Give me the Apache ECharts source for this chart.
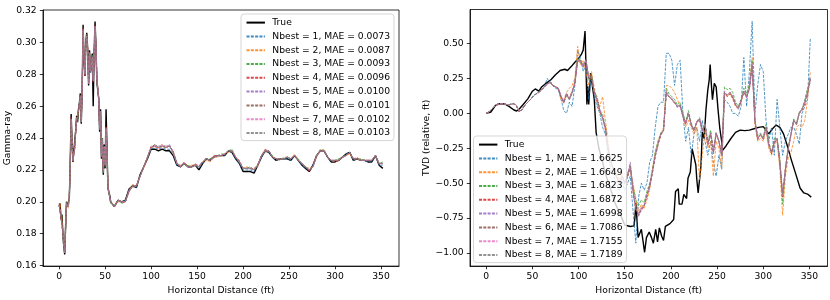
<!DOCTYPE html>
<html><head><meta charset="utf-8">
<script src="https://cdn.jsdelivr.net/npm/echarts@6/dist/echarts.min.js"></script>
<style>html,body{margin:0;padding:0;background:#fff}#c{width:830px;height:300px}</style>
</head><body><div id="c"></div>
<script>
// ---------- LEFT PANEL: Gamma-ray ----------
const xL = [0,1,2,3,4,5,6,7,8,9,10,11,12,13,14,15,16,17,18,19,20,21,22,23,24,25,26,27,28,29,30,31,32,33,34,35,36,37,38,39,40,41,42,43,44,45,46,47,48,49,50,51,52,53,54,55,56,60,64,68,72,76,80,84,88,92,96,100,104,108,112,116,120,124,128,132,136,140,144,148,152,156,160,164,168,172,176,180,184,188,192,196,200,204,208,212,216,220,224,228,232,236,240,244,248,252,256,260,264,268,272,276,280,284,288,292,296,300,304,308,312,316,320,324,328,332,336,340,344,348,352];
const grTrue = [0.197,0.199,0.189,0.192,0.180,0.172,0.167,0.185,0.200,0.197,
0.196,0.202,0.223,0.255,0.238,0.225,0.232,0.233,0.245,0.254,
0.250,0.258,0.262,0.268,0.249,0.269,0.311,0.289,0.279,0.300,
0.306,0.296,0.273,0.295,0.281,0.287,0.293,0.260,0.293,0.313,
0.298,0.275,0.270,0.265,0.244,0.258,0.227,0.240,0.217,0.236,
0.221,0.258,0.233,0.209,0.206,0.204,0.200,
0.197,0.201,0.200,0.201,0.208,0.210,0.209,0.217,0.222,0.227,
0.233,0.233,0.232,0.233,0.232,0.232,0.229,0.223,0.222,0.224,
0.222,0.222,0.223,0.220,0.224,0.227,0.226,0.228,0.229,0.229,
0.229,0.232,0.231,0.227,0.224,0.219,0.219,0.219,0.218,0.223,
0.228,0.232,0.231,0.228,0.226,0.227,0.227,0.227,0.226,0.229,
0.226,0.223,0.221,0.219,0.223,0.229,0.232,0.232,0.228,0.225,
0.225,0.226,0.228,0.230,0.231,0.226,0.227,0.226,0.226,0.225,
0.225,0.229,0.223,0.221];
const gr1 = [0.198,0.198,0.190,0.191,0.181,0.173,0.168,0.184,0.199,0.198,
0.197,0.203,0.222,0.252,0.237,0.226,0.231,0.234,0.244,0.252,
0.251,0.257,0.261,0.266,0.251,0.270,0.308,0.290,0.280,0.299,
0.304,0.295,0.275,0.293,0.282,0.286,0.291,0.276,0.291,0.310,
0.297,0.277,0.271,0.264,0.246,0.256,0.229,0.239,0.219,0.234,
0.223,0.246,0.231,0.210,0.206,0.203,0.200,
0.197,0.201,0.200,0.201,0.208,0.210,0.209,0.217,0.222,0.227,
0.233,0.234,0.233,0.234,0.233,0.233,0.230,0.223,0.222,0.224,
0.222,0.222,0.223,0.221,0.224,0.227,0.226,0.228,0.229,0.229,
0.229,0.232,0.231,0.227,0.224,0.220,0.220,0.220,0.219,0.223,
0.228,0.232,0.231,0.228,0.226,0.227,0.227,0.227,0.226,0.229,
0.226,0.223,0.221,0.220,0.223,0.229,0.232,0.232,0.228,0.225,
0.226,0.226,0.228,0.230,0.231,0.226,0.227,0.226,0.226,0.225,
0.225,0.229,0.223,0.223];
const gr2 = [0.197,0.199,0.191,0.190,0.182,0.172,0.169,0.185,0.198,0.199,
0.196,0.204,0.221,0.250,0.238,0.227,0.230,0.235,0.243,0.251,
0.252,0.256,0.262,0.265,0.252,0.271,0.306,0.291,0.281,0.298,
0.303,0.296,0.276,0.292,0.283,0.285,0.290,0.278,0.290,0.308,
0.298,0.278,0.272,0.263,0.247,0.255,0.230,0.238,0.220,0.233,
0.224,0.245,0.230,0.211,0.207,0.202,0.201,
0.197,0.200,0.200,0.200,0.207,0.211,0.210,0.216,0.221,0.228,
0.234,0.235,0.233,0.235,0.234,0.235,0.231,0.224,0.223,0.224,
0.222,0.223,0.223,0.222,0.225,0.226,0.225,0.228,0.228,0.229,
0.230,0.231,0.232,0.228,0.225,0.221,0.222,0.221,0.220,0.222,
0.229,0.231,0.232,0.228,0.227,0.226,0.228,0.228,0.227,0.230,
0.226,0.224,0.222,0.221,0.222,0.228,0.232,0.233,0.228,0.226,
0.225,0.226,0.228,0.229,0.230,0.227,0.228,0.226,0.226,0.226,
0.226,0.229,0.224,0.224];
const gr3 = [0.198,0.197,0.190,0.192,0.180,0.174,0.168,0.183,0.200,0.198,
0.197,0.202,0.223,0.251,0.236,0.226,0.232,0.233,0.245,0.253,
0.250,0.258,0.260,0.267,0.250,0.272,0.307,0.289,0.282,0.298,
0.305,0.294,0.277,0.292,0.281,0.287,0.292,0.277,0.292,0.309,
0.296,0.276,0.270,0.265,0.245,0.257,0.228,0.240,0.218,0.235,
0.222,0.247,0.232,0.209,0.205,0.204,0.199,
0.198,0.201,0.199,0.200,0.207,0.210,0.210,0.216,0.222,0.228,
0.234,0.236,0.234,0.235,0.235,0.235,0.231,0.225,0.222,0.224,
0.223,0.222,0.223,0.222,0.225,0.227,0.227,0.228,0.229,0.230,
0.230,0.232,0.233,0.228,0.225,0.221,0.221,0.222,0.220,0.223,
0.229,0.232,0.232,0.229,0.227,0.227,0.227,0.228,0.227,0.229,
0.227,0.224,0.222,0.220,0.222,0.229,0.233,0.232,0.228,0.226,
0.226,0.227,0.228,0.229,0.231,0.227,0.227,0.227,0.226,0.226,
0.226,0.229,0.224,0.225];
const gr4 = [0.199,0.198,0.189,0.191,0.181,0.173,0.169,0.184,0.199,0.197,
0.198,0.203,0.222,0.253,0.237,0.225,0.231,0.234,0.244,0.252,
0.251,0.257,0.261,0.266,0.251,0.270,0.309,0.290,0.279,0.300,
0.304,0.296,0.275,0.294,0.282,0.286,0.290,0.275,0.291,0.311,
0.297,0.277,0.271,0.264,0.246,0.256,0.229,0.239,0.219,0.234,
0.223,0.247,0.231,0.210,0.206,0.203,0.200,
0.197,0.201,0.200,0.200,0.206,0.210,0.210,0.216,0.222,0.228,
0.235,0.235,0.234,0.236,0.234,0.235,0.232,0.224,0.222,0.225,
0.222,0.222,0.224,0.222,0.225,0.227,0.226,0.229,0.229,0.229,
0.230,0.232,0.232,0.228,0.226,0.221,0.221,0.221,0.221,0.223,
0.229,0.233,0.232,0.228,0.227,0.227,0.227,0.228,0.227,0.229,
0.226,0.224,0.222,0.219,0.222,0.229,0.232,0.232,0.228,0.226,
0.226,0.226,0.228,0.229,0.231,0.227,0.227,0.226,0.226,0.226,
0.226,0.229,0.224,0.224];
const gr5 = [0.198,0.198,0.190,0.191,0.182,0.173,0.168,0.184,0.199,0.198,
0.197,0.203,0.222,0.252,0.238,0.226,0.231,0.233,0.244,0.252,
0.251,0.258,0.261,0.266,0.251,0.269,0.308,0.291,0.280,0.299,
0.304,0.295,0.275,0.293,0.281,0.286,0.291,0.276,0.292,0.310,
0.297,0.277,0.272,0.264,0.246,0.257,0.229,0.239,0.219,0.234,
0.223,0.246,0.231,0.210,0.207,0.203,0.200,
0.197,0.201,0.200,0.200,0.207,0.209,0.210,0.216,0.222,0.228,
0.234,0.235,0.235,0.235,0.234,0.236,0.231,0.224,0.222,0.224,
0.222,0.222,0.223,0.223,0.225,0.227,0.226,0.228,0.229,0.229,
0.230,0.232,0.232,0.228,0.225,0.221,0.221,0.221,0.220,0.223,
0.229,0.232,0.232,0.228,0.227,0.227,0.227,0.228,0.227,0.229,
0.226,0.224,0.222,0.220,0.222,0.229,0.232,0.232,0.228,0.226,
0.226,0.226,0.228,0.229,0.231,0.227,0.227,0.226,0.226,0.226,
0.226,0.229,0.224,0.224];
const gr6 = [0.198,0.199,0.190,0.191,0.181,0.172,0.168,0.184,0.200,0.198,
0.197,0.203,0.222,0.252,0.237,0.226,0.231,0.234,0.244,0.253,
0.251,0.257,0.261,0.267,0.251,0.270,0.308,0.290,0.280,0.299,
0.305,0.295,0.275,0.293,0.282,0.286,0.291,0.276,0.291,0.310,
0.298,0.277,0.271,0.264,0.246,0.256,0.228,0.239,0.219,0.234,
0.223,0.246,0.231,0.210,0.206,0.203,0.200,
0.197,0.201,0.200,0.200,0.207,0.210,0.210,0.216,0.222,0.228,
0.234,0.236,0.234,0.235,0.234,0.235,0.231,0.224,0.222,0.224,
0.222,0.222,0.223,0.222,0.225,0.227,0.226,0.228,0.229,0.229,
0.230,0.232,0.232,0.228,0.225,0.221,0.221,0.221,0.220,0.223,
0.229,0.232,0.232,0.228,0.227,0.227,0.227,0.228,0.227,0.229,
0.226,0.224,0.222,0.220,0.222,0.229,0.232,0.232,0.228,0.226,
0.226,0.226,0.228,0.229,0.231,0.227,0.227,0.226,0.226,0.226,
0.226,0.229,0.224,0.224];
const gr7 = [0.198,0.198,0.190,0.191,0.181,0.173,0.168,0.185,0.199,0.198,
0.197,0.203,0.223,0.252,0.237,0.226,0.231,0.234,0.245,0.252,
0.251,0.257,0.261,0.266,0.250,0.270,0.308,0.290,0.280,0.299,
0.304,0.295,0.274,0.293,0.282,0.286,0.291,0.276,0.291,0.310,
0.297,0.276,0.271,0.264,0.246,0.256,0.229,0.239,0.219,0.235,
0.223,0.246,0.231,0.210,0.206,0.203,0.200,
0.197,0.201,0.200,0.200,0.207,0.210,0.210,0.216,0.222,0.228,
0.234,0.235,0.234,0.235,0.235,0.235,0.231,0.224,0.222,0.224,
0.222,0.222,0.223,0.222,0.225,0.227,0.226,0.228,0.229,0.229,
0.230,0.232,0.232,0.228,0.225,0.221,0.221,0.221,0.220,0.223,
0.229,0.232,0.232,0.228,0.227,0.227,0.227,0.228,0.227,0.229,
0.226,0.224,0.222,0.220,0.222,0.229,0.232,0.232,0.228,0.226,
0.226,0.226,0.228,0.229,0.231,0.227,0.227,0.226,0.226,0.226,
0.226,0.229,0.224,0.224];
const gr8 = [0.198,0.198,0.190,0.191,0.181,0.173,0.168,0.184,0.199,0.198,
0.197,0.203,0.222,0.252,0.237,0.226,0.231,0.234,0.244,0.252,
0.251,0.257,0.261,0.266,0.251,0.270,0.308,0.290,0.280,0.299,
0.304,0.295,0.275,0.293,0.282,0.286,0.291,0.276,0.291,0.310,
0.297,0.277,0.271,0.264,0.246,0.256,0.229,0.239,0.219,0.234,
0.223,0.246,0.231,0.210,0.206,0.203,0.200,
0.197,0.201,0.200,0.200,0.207,0.210,0.210,0.216,0.222,0.228,
0.234,0.235,0.234,0.235,0.234,0.235,0.231,0.224,0.222,0.224,
0.222,0.222,0.223,0.222,0.225,0.227,0.226,0.228,0.229,0.229,
0.230,0.232,0.232,0.228,0.225,0.221,0.221,0.221,0.220,0.223,
0.229,0.232,0.232,0.228,0.227,0.227,0.227,0.228,0.227,0.229,
0.226,0.224,0.222,0.220,0.222,0.229,0.232,0.232,0.228,0.226,
0.226,0.226,0.228,0.229,0.231,0.227,0.227,0.226,0.226,0.226,
0.226,0.229,0.224,0.224];
const leftNames = ['True','Nbest = 1, MAE = 0.0073','Nbest = 2, MAE = 0.0087','Nbest = 3, MAE = 0.0093','Nbest = 4, MAE = 0.0096','Nbest = 5, MAE = 0.0100','Nbest = 6, MAE = 0.0101','Nbest = 7, MAE = 0.0102','Nbest = 8, MAE = 0.0103'];
const leftYTicks = [0.16,0.18,0.20,0.22,0.24,0.26,0.28,0.30,0.32];

// ---------- RIGHT PANEL: TVD ----------
const tvdTrue = [[0,0],[5,0.01],[10,0.057],[15,0.07],[20,0.067],[25,0.048],[30,0.024],[33,0.017],[36,0.033],[40,0.064],
[45,0.104],[50,0.159],[53,0.175],[57,0.159],[60,0.189],[65,0.217],[70,0.241],[75,0.276],[80,0.307],[85,0.316],
[88,0.307],[92,0.335],[96,0.366],[100,0.394],[103,0.422],[105,0.453],[107,0.589],[108,0.335],[109,0.064],[110,0.194],
[111,0.064],[113,0.288],[115,0.194],[117,0.10],[119,-0.136],[122,-0.25],[126,-0.35],[130,-0.45],[135,-0.55],[140,-0.65],
[145,-0.72],[150,-0.80],[153,-0.805],[156,-0.81],[160,-0.806],[161,-0.75],[162,-0.642],[164.5,-0.889],[168,-0.83],[171.5,-0.995],
[173.5,-0.89],[176.5,-0.85],[179,-0.89],[181,-0.93],[183.5,-0.83],[185.5,-0.92],[187.5,-0.82],[190,-0.88],[192,-0.91],[194,-0.81],
[199,-0.79],[203,-0.76],[205,-0.56],[208,-0.54],[209,-0.65],[212,-0.65],[214,-0.58],[217,-0.61],[218.5,-0.465],[221,-0.42],
[223,-0.253],[225,-0.24],[227,-0.37],[228,-0.47],[229.5,-0.57],[232.5,-0.38],[234,-0.133],[236,-0.18],[238,0.029],[240,0.17],
[241.5,0.24],[242.5,0.35],[244,0.19],[245,0.098],[247,0.215],[249,0.19],[251,0.03],[253,-0.11],[255,-0.2],[256,-0.265],
[260,-0.23],[265,-0.18],[270,-0.136],[275,-0.12],[280,-0.124],[285,-0.12],[290,-0.11],[295,-0.10],[300,-0.095],[303,-0.12],
[306,-0.147],[310,-0.11],[314,-0.084],[318,-0.10],[322,-0.147],[326,-0.23],[330,-0.324],[335,-0.43],[340,-0.536],[344,-0.57],
[348,-0.578],[352,-0.60]];
const xR = [0,3,6,9,12,15,18,21,24,27,30,33,36,39,42,45,48,51,54,57,60,63,66,69,72,75,78,81,84,87,90,93,96,99,102,105,108,111,114,117,120,123,126,129,132,135,138,141,144,147,150,153,156,159,162,165,168,171,174,177,180,183,186,189,192,195,198,201,204,207,210,213,216,219,222,225,228,231,234,237,240,243,246,249,252,255,258,261,264,267,270,273,276,279,282,285,288,291,294,297,300,303,306,309,312,315,318,321,324,327,330,333,336,339,342,345,348,351];
const tvd1 = [0.00,0.01,0.03,0.05,0.065,0.07,0.07,0.065,0.06,0.07,
0.07,0.05,0.01,0.03,0.06,0.08,0.10,0.13,0.14,0.16,
0.17,0.19,0.25,0.22,0.20,0.18,0.17,0.10,0.02,0.00,
0.08,0.05,0.20,0.45,0.40,0.30,0.35,0.10,0.28,0.12,
0.05,0.00,-0.10,-0.15,-0.30,-0.40,-0.45,-0.50,-0.55,-0.48,
-0.55,-0.50,-0.45,-0.70,-0.93,-0.60,-0.50,-0.55,-0.50,-0.35,
-0.30,-0.10,0.05,0.08,0.08,0.43,0.43,0.38,0.20,0.35,
0.38,0.00,-0.20,-0.10,-0.30,-0.15,-0.10,-0.20,-0.05,-0.20,
-0.30,-0.20,-0.35,-0.45,-0.30,-0.40,0.10,0.08,0.05,0.00,
0.00,-0.02,0.05,0.40,0.05,0.30,0.66,0.00,0.20,0.35,
0.30,-0.05,-0.20,-0.10,-0.30,0.10,-0.10,-0.30,-0.20,-0.15,
-0.10,-0.10,-0.15,-0.22,0.00,0.05,0.10,0.54];
const tvd2 = [0.00,0.01,0.03,0.05,0.06,0.07,0.07,0.065,0.06,0.065,
0.07,0.05,0.01,0.03,0.06,0.08,0.10,0.12,0.14,0.15,
0.17,0.19,0.21,0.22,0.20,0.19,0.18,0.10,0.10,0.15,
0.18,0.20,0.25,0.48,0.35,0.38,0.30,0.20,0.30,0.18,
0.10,0.05,0.12,-0.05,-0.20,-0.35,-0.40,-0.42,-0.48,-0.42,
-0.50,-0.42,-0.40,-0.50,-0.62,-0.70,-0.65,-0.68,-0.62,-0.55,
-0.40,-0.28,-0.20,-0.15,-0.10,0.20,0.20,0.18,0.15,0.10,
0.05,0.00,-0.10,-0.05,-0.10,-0.15,-0.10,-0.48,-0.30,-0.12,
-0.25,-0.20,-0.45,-0.20,-0.25,-0.40,0.15,0.12,0.14,0.10,
0.05,0.03,0.08,0.15,0.12,0.20,0.40,-0.08,-0.20,-0.18,
-0.20,-0.12,-0.25,-0.30,-0.22,-0.20,-0.40,-0.73,-0.45,-0.32,
-0.28,-0.20,-0.10,-0.08,-0.10,-0.05,0.10,0.30];
const tvd3 = [0.00,0.01,0.03,0.05,0.065,0.07,0.07,0.065,0.06,0.065,
0.07,0.05,0.01,0.03,0.06,0.08,0.10,0.12,0.14,0.15,
0.17,0.19,0.21,0.23,0.20,0.19,0.18,0.12,0.08,0.13,
0.10,0.15,0.22,0.40,0.36,0.35,0.38,0.24,0.28,0.15,
0.12,0.02,0.00,-0.10,-0.25,-0.35,-0.40,-0.45,-0.50,-0.45,
-0.50,-0.45,-0.40,-0.52,-0.62,-0.66,-0.62,-0.64,-0.56,-0.50,
-0.40,-0.28,-0.20,-0.14,-0.12,0.18,0.14,0.12,0.10,0.06,
0.08,0.00,-0.06,0.02,-0.07,-0.12,-0.06,-0.03,-0.12,-0.07,
-0.20,-0.12,-0.26,-0.14,-0.20,-0.30,0.19,0.17,0.18,0.15,
0.08,0.05,0.10,0.18,0.14,0.20,0.38,-0.05,-0.16,-0.14,
-0.17,-0.08,-0.20,-0.28,-0.18,-0.18,-0.32,-0.65,-0.40,-0.24,
-0.15,-0.04,-0.07,0.01,0.03,0.10,0.18,0.22];
const tvd4 = [0.00,0.01,0.03,0.05,0.065,0.07,0.07,0.065,0.06,0.065,
0.07,0.05,0.01,0.03,0.06,0.08,0.10,0.12,0.14,0.15,
0.17,0.19,0.21,0.22,0.20,0.19,0.18,0.12,0.07,0.14,
0.11,0.16,0.21,0.37,0.38,0.34,0.37,0.25,0.25,0.16,
0.08,0.01,-0.03,-0.12,-0.26,-0.35,-0.42,-0.45,-0.50,-0.46,
-0.50,-0.46,-0.38,-0.56,-0.70,-0.72,-0.70,-0.66,-0.60,-0.52,
-0.42,-0.30,-0.22,-0.16,-0.12,0.14,0.12,0.10,0.07,0.05,
0.05,-0.02,-0.08,0.00,-0.08,-0.13,-0.06,-0.05,-0.12,-0.09,
-0.23,-0.15,-0.28,-0.15,-0.20,-0.30,0.14,0.12,0.14,0.11,
0.06,0.04,0.09,0.15,0.12,0.17,0.33,-0.06,-0.19,-0.15,
-0.19,-0.10,-0.22,-0.29,-0.21,-0.19,-0.36,-0.60,-0.40,-0.26,
-0.16,-0.05,-0.08,0.00,0.02,0.07,0.14,0.24];
const tvd5 = [0.00,0.01,0.03,0.05,0.065,0.07,0.07,0.065,0.06,0.065,
0.07,0.05,0.01,0.03,0.06,0.08,0.10,0.12,0.14,0.15,
0.17,0.19,0.21,0.23,0.20,0.19,0.18,0.12,0.08,0.14,
0.10,0.14,0.22,0.38,0.37,0.33,0.38,0.26,0.26,0.14,
0.10,0.02,-0.03,-0.10,-0.25,-0.36,-0.40,-0.46,-0.50,-0.44,
-0.50,-0.44,-0.35,-0.55,-0.68,-0.74,-0.68,-0.67,-0.58,-0.53,
-0.43,-0.31,-0.22,-0.15,-0.13,0.15,0.12,0.10,0.08,0.04,
0.06,-0.03,-0.07,0.00,-0.09,-0.12,-0.07,-0.04,-0.13,-0.08,
-0.22,-0.14,-0.29,-0.14,-0.20,-0.31,0.15,0.13,0.15,0.12,
0.06,0.03,0.09,0.16,0.11,0.18,0.35,-0.05,-0.18,-0.16,
-0.18,-0.10,-0.23,-0.28,-0.20,-0.18,-0.35,-0.57,-0.41,-0.25,
-0.15,-0.05,-0.08,0.00,0.03,0.08,0.15,0.26];
const tvd6 = [0.00,0.01,0.03,0.05,0.065,0.07,0.07,0.065,0.06,0.065,
0.07,0.05,0.01,0.03,0.06,0.08,0.10,0.12,0.14,0.15,
0.17,0.19,0.21,0.23,0.20,0.19,0.18,0.12,0.08,0.14,
0.10,0.15,0.23,0.38,0.38,0.33,0.39,0.25,0.26,0.15,
0.10,0.02,-0.04,-0.10,-0.25,-0.35,-0.40,-0.45,-0.51,-0.45,
-0.50,-0.45,-0.37,-0.56,-0.68,-0.73,-0.68,-0.66,-0.59,-0.52,
-0.42,-0.31,-0.23,-0.15,-0.12,0.15,0.12,0.10,0.08,0.05,
0.06,-0.02,-0.07,0.00,-0.08,-0.12,-0.06,-0.04,-0.12,-0.08,
-0.22,-0.14,-0.28,-0.14,-0.20,-0.30,0.15,0.13,0.15,0.12,
0.06,0.04,0.09,0.16,0.12,0.18,0.35,-0.05,-0.18,-0.15,
-0.18,-0.10,-0.22,-0.28,-0.20,-0.18,-0.35,-0.58,-0.40,-0.25,
-0.15,-0.05,-0.08,0.00,0.03,0.08,0.15,0.25];
const tvd7 = [0.00,0.01,0.03,0.05,0.065,0.07,0.07,0.065,0.06,0.065,
0.07,0.05,0.01,0.03,0.06,0.08,0.10,0.12,0.14,0.15,
0.17,0.19,0.21,0.22,0.20,0.19,0.18,0.13,0.08,0.14,
0.10,0.15,0.22,0.39,0.37,0.33,0.38,0.25,0.27,0.15,
0.10,0.03,-0.03,-0.11,-0.25,-0.35,-0.41,-0.45,-0.50,-0.45,
-0.51,-0.45,-0.38,-0.54,-0.67,-0.72,-0.67,-0.66,-0.58,-0.51,
-0.41,-0.30,-0.22,-0.15,-0.12,0.16,0.12,0.11,0.08,0.05,
0.06,-0.02,-0.07,0.00,-0.08,-0.12,-0.06,-0.04,-0.12,-0.08,
-0.22,-0.14,-0.27,-0.14,-0.20,-0.30,0.16,0.13,0.15,0.12,
0.06,0.04,0.09,0.16,0.12,0.18,0.36,-0.05,-0.18,-0.15,
-0.18,-0.11,-0.22,-0.28,-0.20,-0.18,-0.34,-0.58,-0.40,-0.25,
-0.15,-0.05,-0.08,0.00,0.03,0.08,0.16,0.25];
const tvd8 = [0.00,0.01,0.03,0.05,0.065,0.07,0.07,0.065,0.06,0.065,
0.07,0.05,0.01,0.03,0.06,0.08,0.10,0.12,0.14,0.15,
0.17,0.19,0.21,0.23,0.20,0.19,0.18,0.12,0.08,0.14,
0.10,0.15,0.22,0.38,0.38,0.34,0.38,0.25,0.26,0.15,
0.10,0.02,-0.03,-0.10,-0.26,-0.35,-0.40,-0.45,-0.50,-0.45,
-0.50,-0.45,-0.38,-0.55,-0.68,-0.72,-0.68,-0.66,-0.58,-0.52,
-0.42,-0.30,-0.22,-0.15,-0.12,0.15,0.12,0.10,0.08,0.05,
0.06,-0.02,-0.07,0.00,-0.08,-0.12,-0.06,-0.04,-0.12,-0.08,
-0.22,-0.14,-0.28,-0.14,-0.20,-0.30,0.15,0.13,0.15,0.12,
0.06,0.04,0.09,0.16,0.12,0.18,0.34,-0.05,-0.18,-0.15,
-0.18,-0.10,-0.22,-0.28,-0.20,-0.18,-0.35,-0.58,-0.40,-0.25,
-0.15,-0.05,-0.08,0.00,0.03,0.08,0.15,0.25];
const rightNames = ['True','Nbest = 1, MAE = 1.6625','Nbest = 2, MAE = 1.6649','Nbest = 3, MAE = 1.6823','Nbest = 4, MAE = 1.6872','Nbest = 5, MAE = 1.6998','Nbest = 6, MAE = 1.7086','Nbest = 7, MAE = 1.7155','Nbest = 8, MAE = 1.7189'];
const rightYTicks = [-1.00,-0.75,-0.50,-0.25,0.00,0.25,0.50];
const xTicks = [0,50,100,150,200,250,300,350];

const colors = ['#1f77b4','#ff7f0e','#2ca02c','#d62728','#9467bd','#8c564b','#e377c2','#7f7f7f'];
const FONT = 'DejaVu Sans';
const FS = 9.2;

const chart = echarts.init(document.getElementById('c'), null, {renderer:'canvas'});

function xAxisCfg(gi){
  return {type:'value', gridIndex:gi, min:-17.6, max:369.6,
    name:'Horizontal Distance (ft)', nameLocation:'middle', nameGap:18,
    nameTextStyle:{fontFamily:FONT,fontSize:FS,color:'#000'},
    axisLine:{show:true,onZero:false,lineStyle:{color:'#000',width:0.8}},
    axisTick:{show:true,length:3.2,lineStyle:{color:'#000',width:0.8},customValues:xTicks},
    axisLabel:{fontFamily:FONT,fontSize:FS,color:'#000',margin:6,customValues:xTicks,formatter:v=>String(v)},
    splitLine:{show:false}};
}
function yAxisCfg(gi,min,max,ticks,name,gap,fmt){
  return {type:'value', gridIndex:gi, min:min, max:max,
    name:name, nameLocation:'middle', nameGap:gap, nameRotate:90,
    nameTextStyle:{fontFamily:FONT,fontSize:FS,color:'#000'},
    axisLine:{show:true,onZero:false,lineStyle:{color:'#000',width:0.8}},
    axisTick:{show:true,length:3.2,lineStyle:{color:'#000',width:0.8},customValues:ticks},
    axisLabel:{fontFamily:FONT,fontSize:FS,color:'#000',margin:6.4,customValues:ticks,formatter:fmt},
    splitLine:{show:false}};
}

const series = [];
const grPreds = [gr1,gr2,gr3,gr4,gr5,gr6,gr7,gr8];
const tvdPreds = [tvd1,tvd2,tvd3,tvd4,tvd5,tvd6,tvd7,tvd8];
series.push({type:'line', name:'True', xAxisIndex:0, yAxisIndex:0, data:xL.map((x,i)=>[x,grTrue[i]]),
  symbol:'none', color:'#000', lineStyle:{color:'#000',width:1.4}, z:2, silent:true});
grPreds.forEach((arr,k)=>series.push({type:'line', name:leftNames[k+1], xAxisIndex:0, yAxisIndex:0,
  data:xL.map((x,i)=>[x,arr[i]]), symbol:'none', color:colors[k],
  lineStyle:{color:colors[k],width:0.9,type:[3,1.3],opacity:0.85}, z:3, silent:true}));
series.push({type:'line', name:'True', xAxisIndex:1, yAxisIndex:1, data:tvdTrue,
  symbol:'none', color:'#000', lineStyle:{color:'#000',width:1.4}, z:2, silent:true});
tvdPreds.forEach((arr,k)=>series.push({type:'line', name:rightNames[k+1], xAxisIndex:1, yAxisIndex:1,
  data:xR.map((x,i)=>[x,arr[i]]), symbol:'none', color:colors[k],
  lineStyle:{color:colors[k],width:0.9,type:[3,1.3],opacity:0.85}, z:3, silent:true}));

const legendBase = {orient:'vertical', itemWidth:18.4, itemHeight:9.2, itemGap:4.6,
  padding:[4,4,3,4.5], backgroundColor:'rgba(255,255,255,0.8)', borderColor:'rgba(204,204,204,0.8)',
  borderWidth:1, borderRadius:3, selectedMode:false,
  itemStyle:{opacity:0, borderWidth:0},
  textStyle:{fontFamily:FONT,fontSize:FS,color:'#000',lineHeight:9.2,padding:[0,0,0,2.4]}};

chart.setOption({
  animation:false,
  backgroundColor:'#fff',
  grid:[
    {left:43, top:10, width:356, height:259, show:true, borderColor:'#000', borderWidth:0.8, containLabel:false},
    {left:470, top:9.5, width:357.5, height:259.5, show:true, borderColor:'#000', borderWidth:0.8, containLabel:false}
  ],
  xAxis:[xAxisCfg(0), xAxisCfg(1)],
  yAxis:[
    yAxisCfg(0,0.1597,0.3203,leftYTicks,'Gamma-ray',30,v=>v.toFixed(2)),
    yAxisCfg(1,-1.094,0.744,rightYTicks,'TVD (relative, ft)',38,v=>v.toFixed(2).replace('-','\u2212'))
  ],
  legend:[
    Object.assign({}, legendBase, {data:leftNames, right:436, top:14}),
    Object.assign({}, legendBase, {data:rightNames, left:473.5, top:136})
  ],
  series:series
});
</script></body></html>
